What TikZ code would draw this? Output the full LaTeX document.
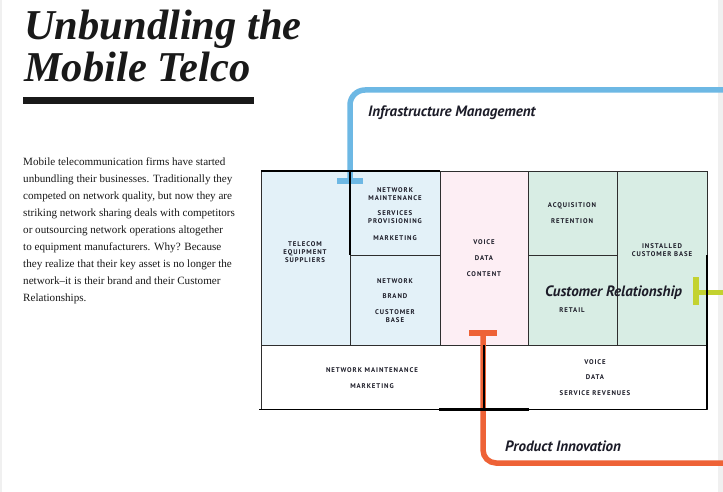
\documentclass[tikz,border=0pt]{standalone}
\usepackage{fontspec}
\setmainfont{Liberation Serif}
\newfontfamily\cellfont[LetterSpace=14]{PT Sans}
\newfontfamily\headfont{PT Sans}
\definecolor{blueFill}{HTML}{E3F1F8}
\definecolor{pinkFill}{HTML}{FDEEF4}
\definecolor{mintFill}{HTML}{D8EDE4}
\definecolor{infraBlue}{HTML}{6DB8E4}
\definecolor{innovOrange}{HTML}{EE6236}
\definecolor{relGreen}{HTML}{C3D230}
\definecolor{gridLine}{HTML}{2E2E2E}
\definecolor{inkText}{HTML}{1C1C28}
\begin{document}
\begin{tikzpicture}[x=1pt,y=-1pt,
  cell/.style={draw=gridLine, line width=0.8pt, anchor=north west, inner sep=0pt},
  celltext/.style={font=\cellfont\bfseries\fontsize{6.8}{8}\selectfont, text=inkText,
    align=center, inner sep=0pt},
  heading/.style={font=\headfont\bfseries\itshape\fontsize{15}{15}\selectfont, text=inkText,
    inner sep=0pt, anchor=base west},
  heavy/.style={draw=black, line width=#1},
  valueline/.style={line width=#1},
]
\useasboundingbox (0,0) rectangle (723,492);
\fill[white] (0,0) rectangle (723,492);
\fill[black!6] (0,0) rectangle (2,492);
\fill[black!6] (718,0) rectangle (723,492);

% title, rule and introduction
\node[font=\bfseries\itshape\fontsize{42.5}{42.5}\selectfont, text=black!90, inner sep=0pt, anchor=base west]
  (title1) at (24,40) {Unbundling the};
\node[font=\bfseries\itshape\fontsize{42.5}{42.5}\selectfont, text=black!90, inner sep=0pt, anchor=base west]
  (title2) at (24,82) {Mobile Telco};
\fill[black!90] (23,97) rectangle (254,104);
\node[font=\fontsize{11.1}{17}\selectfont, text=black!90, align=left, inner sep=0pt, anchor=north west]
  (intro) at (23,157) {Mobile telecommunication firms have started\\
  unbundling their businesses. Traditionally they\\
  competed on network quality, but now they are\\
  striking network sharing deals with competitors\\
  or outsourcing network operations altogether\\
  to equipment manufacturers. Why? Because\\
  they realize that their key asset is no longer the\\
  network--it is their brand and their Customer\\
  Relationships.};

% business model grid
\node[cell, fill=blueFill, minimum width=89pt, minimum height=174pt] (suppliers) at (261,171) {};
\node[cell, fill=blueFill, minimum width=90pt, minimum height=84pt] (activities) at (350,171) {};
\node[cell, fill=blueFill, minimum width=90pt, minimum height=90pt] (resources) at (350,255) {};
\node[cell, fill=pinkFill, minimum width=88pt, minimum height=174pt] (offer) at (440,171) {};
\node[cell, fill=mintFill, minimum width=89pt, minimum height=84pt] (relation) at (528,171) {};
\node[cell, fill=mintFill, minimum width=89pt, minimum height=90pt] (channels) at (528,255) {};
\node[cell, fill=mintFill, minimum width=90pt, minimum height=174pt] (segments) at (617,171) {};
\node[cell, fill=white, minimum width=223pt, minimum height=64pt] (costs) at (261,345) {};
\node[cell, fill=white, minimum width=223pt, minimum height=64pt] (revenues) at (484,345) {};

% cell contents
\node[celltext] (tSuppliers) at (305,252) {TELECOM\\EQUIPMENT\\SUPPLIERS};
\node[celltext, anchor=north] (tActivities) at (395,187) {NETWORK\\MAINTENANCE\\[7pt]SERVICES\\PROVISIONING\\[9pt]MARKETING};
\node[celltext, anchor=north] (tResources) at (395,278) {NETWORK\\[7.5pt]BRAND\\[7.5pt]CUSTOMER\\BASE};
\node[celltext, anchor=north] (tOffer) at (484,239) {VOICE\\[8pt]DATA\\[8pt]CONTENT};
\node[celltext, anchor=north] (tRelation) at (572,202) {ACQUISITION\\[8pt]RETENTION};
\node[celltext] (tChannels) at (572,310) {RETAIL};
\node[celltext, anchor=north] (tSegments) at (662,243) {INSTALLED\\CUSTOMER BASE};
\node[celltext, anchor=north] (tCosts) at (372,367) {NETWORK MAINTENANCE\\[8pt]MARKETING};
\node[celltext, anchor=north] (tRevenues) at (595,359) {VOICE\\[7.5pt]DATA\\[7.5pt]SERVICE REVENUES};

% infrastructure management line
\coordinate (infraFoot) at (350,181);
\coordinate (infraEnd) at (723,90);
\draw[infraBlue, valueline=5.5pt, rounded corners=15pt] (infraFoot) |- (infraEnd);
\draw[infraBlue, valueline=6pt] (337,181) -- (363,181);
\node[heading] (infraLabel) at (368,117) {Infrastructure Management};

% product innovation line
\coordinate (innovFoot) at (483,333);
\coordinate (innovEnd) at (723,463);
\draw[innovOrange, valueline=5.5pt, rounded corners=13pt] (innovFoot) |- (innovEnd);
\draw[innovOrange, valueline=6pt] (469,333) -- (497,333);
\node[heading] (innovLabel) at (505,451) {Product Innovation};

% customer relationship line
\coordinate (relFoot) at (696,292);
\coordinate (relEnd) at (723,292);
\draw[relGreen, valueline=5pt] (relFoot) -- (relEnd);
\draw[relGreen, valueline=6pt] (696,277) -- (696,305);
\node[heading] (relLabel) at (545,296) {Customer Relationship};

% heavy borders drawn on top
\draw[heavy=2.2pt] (261,171) -- (440,171);
\draw[heavy=1.6pt] (350,171) -- (350,255);
\draw[heavy=1.6pt] (707,255) -- (707,409);
\draw[heavy=1.2pt] (484,345) -- (484,409);
\draw[heavy=0.8pt] (259,409) -- (707,409);
\draw[heavy=3pt] (439,409) -- (529,409);
\end{tikzpicture}
\end{document}
